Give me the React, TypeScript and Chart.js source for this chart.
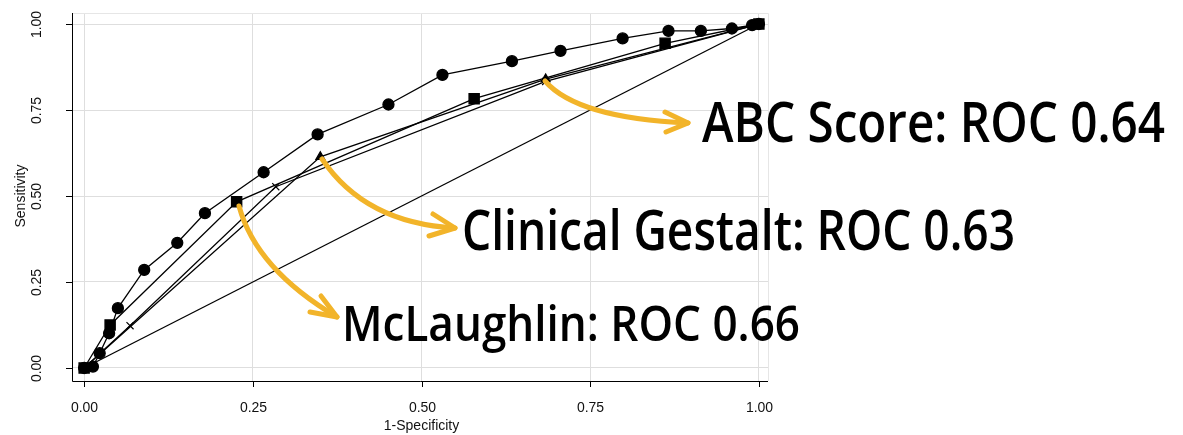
import React, { useEffect, useRef } from "react";
import { Chart, registerables } from "chart.js";

Chart.register(...registerables);

// ---------- data ----------
const circleFpr = [0, 0.013, 0.023, 0.037, 0.05, 0.089, 0.138, 0.179, 0.266, 0.346, 0.451, 0.531, 0.634, 0.706, 0.798, 0.866, 0.914, 0.96, 0.99, 1];
const circleTpr = [0, 0.004, 0.043, 0.101, 0.174, 0.285, 0.364, 0.45, 0.569, 0.679, 0.766, 0.852, 0.892, 0.922, 0.958, 0.98, 0.98, 0.987, 0.997, 1];

const squareFpr = [0, 0.0385, 0.226, 0.578, 0.861, 1];
const squareTpr = [0, 0.125, 0.483, 0.783, 0.944, 1];

const crossFpr = [0, 0.068, 0.284, 0.684, 1];
const crossTpr = [0, 0.123, 0.527, 0.833, 1];

const triangleFpr = [0, 0.35, 0.684, 1];
const triangleTpr = [0, 0.614, 0.84, 1];

const refFpr = [0, 1];
const refTpr = [0, 1];

const tickValues = [0, 0.25, 0.5, 0.75, 1];
const tickLabels = ["0.00", "0.25", "0.50", "0.75", "1.00"];

const annotations = ["ABC Score: ROC 0.64", "Clinical Gestalt: ROC 0.63", "McLaughlin: ROC 0.66"];

const toPoints = (xs: number[], ys: number[]) => xs.map((x, i) => ({ x, y: ys[i] }));

const ORANGE = "#F2B42A";

const overlayPlugin = {
  id: "overlay",
  afterDraw(chart: any) {
    const ctx: CanvasRenderingContext2D = chart.ctx;
    const xs = chart.scales.x;
    const ys = chart.scales.y;
    const area = chart.chartArea;
    ctx.save();
    // light frame top/right
    ctx.strokeStyle = "#e6e6e6";
    ctx.lineWidth = 1;
    ctx.beginPath();
    ctx.moveTo(area.left, area.top + 0.5);
    ctx.lineTo(area.right + 0.5, area.top + 0.5);
    ctx.lineTo(area.right + 0.5, area.bottom);
    ctx.stroke();

    // axis lines
    ctx.strokeStyle = "#000";
    ctx.lineWidth = 1;
    ctx.beginPath();
    ctx.moveTo(area.left + 0.5, area.top);
    ctx.lineTo(area.left + 0.5, area.bottom + 0.5);
    ctx.lineTo(area.right, area.bottom + 0.5);
    ctx.stroke();

    // ticks and labels
    ctx.fillStyle = "#111";
    ctx.font = '14px "Liberation Sans", Arial, sans-serif';
    tickValues.forEach((v, i) => {
      const px = Math.round(xs.getPixelForValue(v)) + 0.5;
      ctx.beginPath();
      ctx.moveTo(px, area.bottom);
      ctx.lineTo(px, area.bottom + 6);
      ctx.stroke();
      ctx.textAlign = "center";
      ctx.textBaseline = "middle";
      ctx.fillText(tickLabels[i], px, 408);

      const py = Math.round(ys.getPixelForValue(v)) + 0.5;
      ctx.beginPath();
      ctx.moveTo(area.left - 6, py);
      ctx.lineTo(area.left, py);
      ctx.stroke();
      ctx.save();
      ctx.translate(37, py);
      ctx.rotate(-Math.PI / 2);
      ctx.fillText(tickLabels[i], 0, 0);
      ctx.restore();
    });
    // titles
    ctx.textAlign = "center";
    ctx.textBaseline = "middle";
    ctx.fillText("1-Specificity", (xs.getPixelForValue(0) + xs.getPixelForValue(1)) / 2, 426);
    ctx.save();
    ctx.translate(21, (ys.getPixelForValue(0) + ys.getPixelForValue(1)) / 2);
    ctx.rotate(-Math.PI / 2);
    ctx.fillText("Sensitivity", 0, 0);
    ctx.restore();

    // arrows
    const arrow = (p0: number[], c: number[], p1: number[], a1: number[], a2: number[]) => {
      ctx.strokeStyle = ORANGE;
      ctx.lineWidth = 5;
      ctx.lineCap = "round";
      ctx.lineJoin = "round";
      ctx.beginPath();
      ctx.moveTo(p0[0], p0[1]);
      ctx.quadraticCurveTo(c[0], c[1], p1[0], p1[1]);
      ctx.stroke();
      ctx.beginPath();
      ctx.moveTo(a1[0], a1[1]);
      ctx.lineTo(p1[0], p1[1]);
      ctx.lineTo(a2[0], a2[1]);
      ctx.stroke();
    };
    arrow([545, 81], [577, 118], [688, 123], [665, 112], [666, 132]);
    arrow([322, 159], [365, 223], [455, 228], [433, 214], [429, 236]);
    arrow([239, 206], [256, 269], [337, 317], [321, 296], [310, 312]);

    // annotation text
    const drawFit = (text: string, left: number, right: number, baseline: number, size: number) => {
      ctx.font = `600 ${size}px "Open Sans", "DejaVu Sans", sans-serif`;
      ctx.textAlign = "left";
      ctx.textBaseline = "alphabetic";
      const w = ctx.measureText(text).width;
      ctx.save();
      ctx.translate(left, baseline);
      ctx.scale((right - left) / w, 1);
      ctx.fillStyle = "#000";
      ctx.fillText(text, 0, 0);
      ctx.restore();
    };
    drawFit(annotations[0], 702, 1165, 142, 56);
    drawFit(annotations[1], 462, 1015, 250, 56);
    drawFit(annotations[2], 342, 800, 341, 49);
    ctx.restore();
  },
};

export default function App() {
  const ref = useRef<HTMLCanvasElement>(null);
  useEffect(() => {
    if (!ref.current) return;
    const line = { borderColor: "#000", borderWidth: 1.3, showLine: true, pointBackgroundColor: "#000", pointBorderColor: "#000" };
    const chart = new Chart(ref.current, {
      type: "scatter",
      data: {
        datasets: [
          { ...line, data: toPoints(refFpr, refTpr), pointRadius: 0 },
          { ...line, data: toPoints(crossFpr, crossTpr), pointStyle: "crossRot", pointRadius: 5, pointBorderWidth: 1.2 },
          { ...line, data: toPoints(triangleFpr, triangleTpr), pointStyle: "triangle", pointRadius: 5 },
          { ...line, data: toPoints(squareFpr, squareTpr), pointStyle: "rect", pointRadius: 7.2 },
          { ...line, data: toPoints(circleFpr, circleTpr), pointStyle: "circle", pointRadius: 5.5 },
        ] as any,
      },
      options: {
        animation: false,
        responsive: false,
        layout: { padding: { left: 72, top: 13, right: 1183 - 768, bottom: 435 - 381 } },
        plugins: { legend: { display: false }, tooltip: { enabled: false } },
        scales: {
          x: {
            type: "linear",
            min: -0.018,
            max: 1.0135,
            afterBuildTicks: (s: any) => { s.ticks = tickValues.map((v) => ({ value: v })); },
            afterFit: (s: any) => { s.height = 0; },
            ticks: { display: false },
            grid: { color: "#dedede", lineWidth: 1, drawTicks: false },
            border: { display: false },
          },
          y: {
            type: "linear",
            min: -0.0378,
            max: 1.032,
            afterBuildTicks: (s: any) => { s.ticks = tickValues.map((v) => ({ value: v })); },
            afterFit: (s: any) => { s.width = 0; },
            ticks: { display: false },
            grid: { color: "#dedede", lineWidth: 1, drawTicks: false },
            border: { display: false },
          },
        },
      },
      plugins: [overlayPlugin],
    } as any);
    return () => chart.destroy();
  }, []);
  return (
    <div style={{ position: "absolute", left: 0, top: 0, width: 1183, height: 435, background: "#fff" }}>
      <canvas ref={ref} width={1183} height={435} style={{ display: "block", width: 1183, height: 435 }} />
    </div>
  );
}
